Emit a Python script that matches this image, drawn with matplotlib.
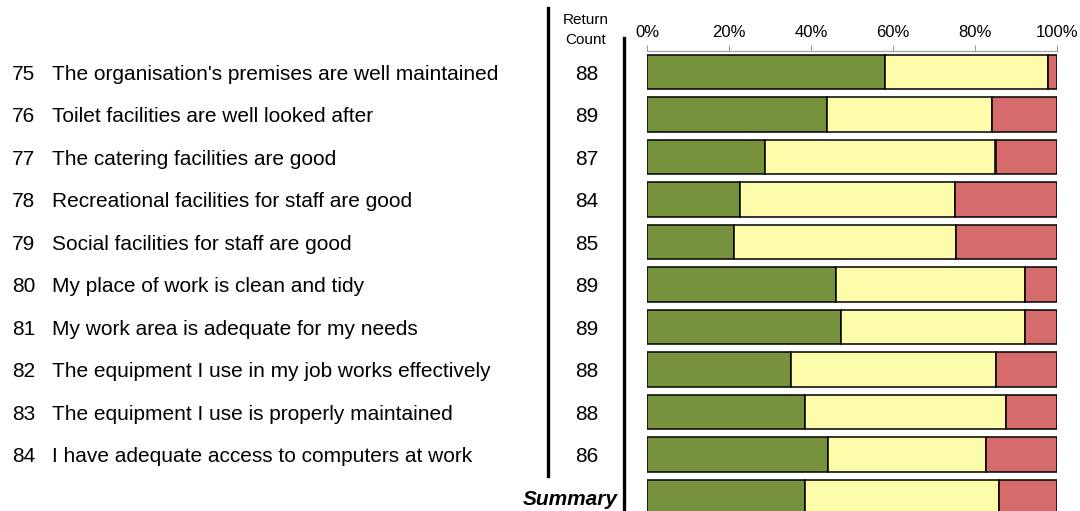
import matplotlib.pyplot as plt
import matplotlib.transforms as mtransforms
from matplotlib.lines import Line2D

plt.rcParams['font.family'] = ['Liberation Sans', 'DejaVu Sans']

numbers = ['75', '76', '77', '78', '79', '80', '81', '82', '83', '84']
questions = ["The organisation's premises are well maintained",
             'Toilet facilities are well looked after',
             'The catering facilities are good',
             'Recreational facilities for staff are good',
             'Social facilities for staff are good',
             'My place of work is clean and tidy',
             'My work area is adequate for my needs',
             'The equipment I use in my job works effectively',
             'The equipment I use is properly maintained',
             'I have adequate access to computers at work']
counts = [88, 89, 87, 84, 85, 89, 89, 88, 88, 86]

# percent agree / neutral / disagree, last entry is the summary row
agree = [58.0, 43.8, 28.7, 22.6, 21.2, 46.1, 47.2, 35.2, 38.6, 44.2, 38.6]
neutral = [39.8, 40.4, 56.3, 52.4, 54.1, 46.1, 45.0, 50.0, 48.9, 38.4, 47.3]
disagree = [2.2, 15.8, 15.0, 25.0, 24.7, 7.8, 7.8, 14.8, 12.5, 17.4, 14.1]

ticks = [0, 20, 40, 60, 80, 100]
tick_labels = ['0%', '20%', '40%', '60%', '80%', '100%']

W, H = 1080, 511
fig = plt.figure(figsize=(W / 100, H / 100), dpi=100)
ax = fig.add_axes([647 / W, 0, (1057 - 647) / W, (511 - 50.75) / H])

rows = list(range(len(agree)))
left2 = [a + n for a, n in zip(agree, neutral)]
kw = dict(height=0.82, edgecolor='black', linewidth=1.1)
ax.barh(rows, agree, color='#76923c', **kw)
ax.barh(rows, neutral, left=agree, color='#fcfcab', **kw)
ax.barh(rows, disagree, left=left2, color='#d66b6b', **kw)

ax.set_xlim(0, 100)
ax.set_ylim(10.33, -0.5)
ax.xaxis.tick_top()
ax.set_xticks(ticks)
ax.set_xticklabels(tick_labels, fontsize=12)
ax.tick_params(axis='x', direction='out', length=4, color='#999999', pad=4)
ax.set_yticks([])
for side in ['left', 'right', 'bottom']:
    ax.spines[side].set_visible(False)
ax.spines['top'].set_color('#aaaaaa')
ax.spines['top'].set_linewidth(1.0)

tr = mtransforms.blended_transform_factory(fig.transFigure, ax.transData)
dy = 0.05
for i in range(len(questions)):
    ax.text(12 / W, i + dy, numbers[i], transform=tr, fontsize=15,
            va='center', ha='left')
    ax.text(52 / W, i + dy, questions[i], transform=tr, fontsize=15,
            va='center', ha='left')
    ax.text(587 / W, i + dy, str(counts[i]), transform=tr, fontsize=15,
            va='center', ha='center')
ax.text(618 / W, 10 + dy, 'Summary', transform=tr, fontsize=15,
        fontweight='bold', fontstyle='italic', va='center', ha='right')

fig.text(586 / W, 1 - 20 / H, 'Return', fontsize=11, ha='center', va='center')
fig.text(586 / W, 1 - 40 / H, 'Count', fontsize=11, ha='center', va='center')

fig.add_artist(Line2D([548 / W, 548 / W], [1 - 8 / H, 1 - 476 / H],
                      color='black', linewidth=2.4, transform=fig.transFigure))
fig.add_artist(Line2D([624 / W, 624 / W], [1 - 38 / H, 0],
                      color='black', linewidth=2.4, transform=fig.transFigure))

fig.savefig('out.png', dpi=100)
